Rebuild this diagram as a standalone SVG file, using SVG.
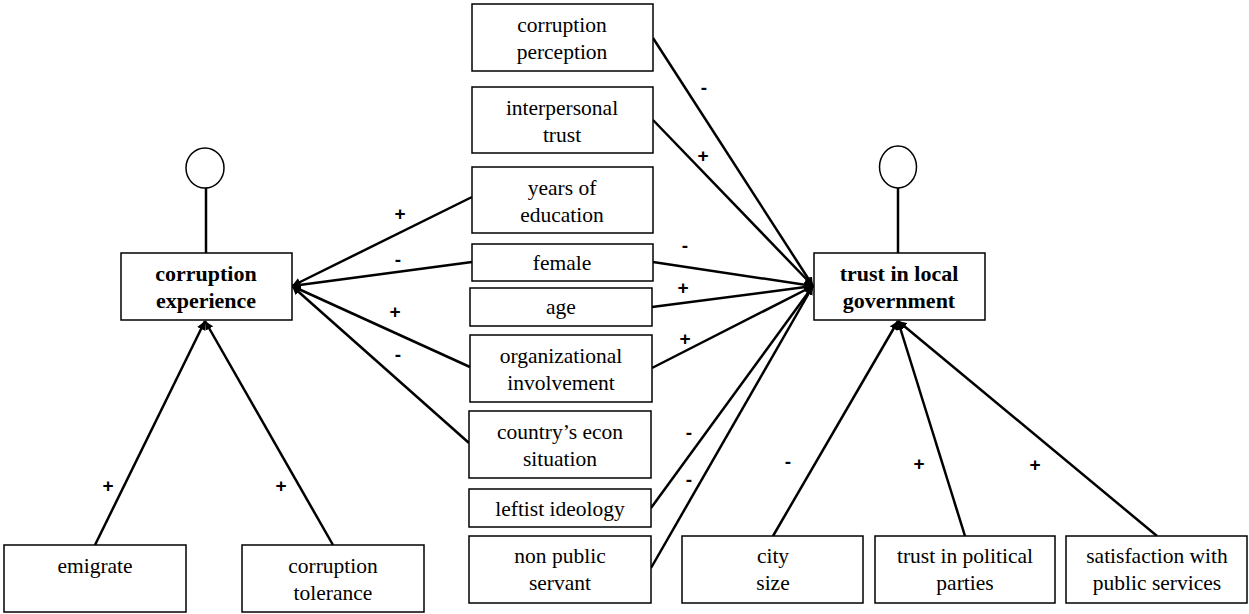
<svg xmlns="http://www.w3.org/2000/svg" width="1249" height="614" viewBox="0 0 1249 614">
<style>
.box{fill:#fff;stroke:#000;stroke-width:1.5}
.t{font-family:"Liberation Serif",serif;font-size:21.5px;text-anchor:middle;fill:#000}
.b{font-weight:bold;font-size:22px}
.s{font-family:"Liberation Sans",sans-serif;font-size:19px;font-weight:bold;text-anchor:middle;fill:#000}
.c line{stroke:#000;stroke-width:2.5;marker-end:url(#ah)}
.stem{stroke:#000;stroke-width:2.5}
</style>
<defs>
<marker id="ah" viewBox="0 0 10 10" refX="10" refY="5" markerWidth="3.5" markerHeight="3.5" orient="auto" markerUnits="strokeWidth">
<path d="M0,0 L10,5 L0,10 z" fill="#000"/>
</marker>
</defs>
<rect width="1249" height="614" fill="#fff"/>
<g class="c" id="connectors">
<line x1="472" y1="197" x2="292" y2="286"/>
<line x1="472" y1="262" x2="292" y2="286"/>
<line x1="470" y1="367" x2="292" y2="286"/>
<line x1="469" y1="443" x2="292" y2="286"/>
<line x1="653" y1="38" x2="813" y2="286"/>
<line x1="653" y1="120" x2="813" y2="286"/>
<line x1="653" y1="262" x2="813" y2="286"/>
<line x1="652" y1="307" x2="813" y2="286"/>
<line x1="652" y1="368" x2="813" y2="286"/>
<line x1="651" y1="508" x2="813" y2="286"/>
<line x1="651" y1="568" x2="813" y2="286"/>
<line x1="773" y1="536" x2="898" y2="321"/>
<line x1="965" y1="536" x2="898" y2="321"/>
<line x1="1157" y1="536" x2="898" y2="321"/>
<line x1="95" y1="545" x2="205" y2="321"/>
<line x1="333" y1="545" x2="205" y2="321"/>
</g>
<g id="signs">
<text class="s" x="400" y="220">+</text>
<text class="s" x="398" y="266">-</text>
<text class="s" x="395" y="318">+</text>
<text class="s" x="398" y="361">-</text>
<text class="s" x="704" y="94">-</text>
<text class="s" x="703" y="162">+</text>
<text class="s" x="685" y="252">-</text>
<text class="s" x="683" y="294">+</text>
<text class="s" x="685" y="345">+</text>
<text class="s" x="689" y="439">-</text>
<text class="s" x="689" y="486">-</text>
<text class="s" x="788" y="468">-</text>
<text class="s" x="919" y="470">+</text>
<text class="s" x="1035" y="471">+</text>
<text class="s" x="108" y="492">+</text>
<text class="s" x="281" y="492">+</text>
</g>
<g id="corruption-experience">
<ellipse cx="205" cy="168" rx="19" ry="20" fill="#fff" stroke="#000" stroke-width="1.5"/>
<line class="stem" x1="206" y1="188" x2="206" y2="253"/>
<rect class="box" x="121" y="253" width="171" height="67"/>
<text class="t b" x="206" y="281">corruption</text>
<text class="t b" x="206" y="308">experience</text>
</g>
<g id="trust-local-government">
<ellipse cx="898" cy="167" rx="18.5" ry="21" fill="#fff" stroke="#000" stroke-width="1.5"/>
<line class="stem" x1="898" y1="188" x2="898" y2="253"/>
<rect class="box" x="814" y="253" width="171" height="67"/>
<text class="t b" x="899" y="281">trust in local</text>
<text class="t b" x="899" y="308">government</text>
</g>
<g id="corruption-perception"><rect class="box" x="472" y="4" width="181" height="67"/><text class="t" x="562" y="32">corruption</text><text class="t" x="562" y="59">perception</text></g>
<g id="interpersonal-trust"><rect class="box" x="472" y="87" width="181" height="66"/><text class="t" x="562" y="115">interpersonal</text><text class="t" x="562" y="142">trust</text></g>
<g id="years-of-education"><rect class="box" x="472" y="167" width="181" height="66"/><text class="t" x="562" y="195">years of</text><text class="t" x="562" y="222">education</text></g>
<g id="female"><rect class="box" x="472" y="244" width="181" height="37"/><text class="t" x="562" y="270">female</text></g>
<g id="age"><rect class="box" x="470" y="288" width="182" height="38"/><text class="t" x="561" y="314">age</text></g>
<g id="organizational-involvement"><rect class="box" x="470" y="335" width="182" height="67"/><text class="t" x="561" y="363">organizational</text><text class="t" x="561" y="390">involvement</text></g>
<g id="econ-situation"><rect class="box" x="469" y="411" width="182" height="67"/><text class="t" x="560" y="439">country’s econ</text><text class="t" x="560" y="466">situation</text></g>
<g id="leftist-ideology"><rect class="box" x="469" y="489" width="182" height="38"/><text class="t" x="560" y="516">leftist ideology</text></g>
<g id="non-public-servant"><rect class="box" x="469" y="536" width="182" height="67"/><text class="t" x="560" y="563">non public</text><text class="t" x="560" y="590">servant</text></g>
<g id="city-size"><rect class="box" x="682" y="536" width="181" height="67"/><text class="t" x="773" y="563">city</text><text class="t" x="773" y="590">size</text></g>
<g id="trust-political-parties"><rect class="box" x="875" y="536" width="180" height="67"/><text class="t" x="965" y="563">trust in political</text><text class="t" x="965" y="590">parties</text></g>
<g id="satisfaction-public-services"><rect class="box" x="1066" y="536" width="181" height="67"/><text class="t" x="1157" y="563">satisfaction with</text><text class="t" x="1157" y="590">public services</text></g>
<g id="emigrate"><rect class="box" x="4" y="545" width="182" height="67"/><text class="t" x="95" y="573">emigrate</text></g>
<g id="corruption-tolerance"><rect class="box" x="242" y="545" width="182" height="67"/><text class="t" x="333" y="573">corruption</text><text class="t" x="333" y="600">tolerance</text></g>
</svg>
